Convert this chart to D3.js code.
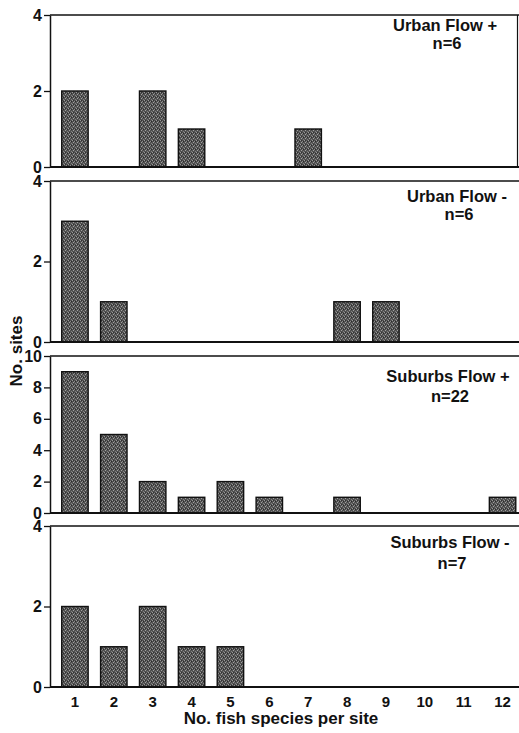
<!DOCTYPE html>
<html>
<head>
<meta charset="utf-8">
<script src="https://cdn.jsdelivr.net/npm/d3@7"></script>
<style>
  body { margin: 0; background: #fff; }
  svg text { font-family: "Liberation Sans", Arial, sans-serif; font-weight: bold; fill: #111; }
</style>
</head>
<body>
<div id="chart"></div>
<script>
// data
var species = [1, 2, 3, 4, 5, 6, 7, 8, 9, 10, 11, 12];
var panelNames = ["Urban Flow +", "Urban Flow -", "Suburbs Flow +", "Suburbs Flow -"];
var panelN = ["n=6", "n=6", "n=22", "n=7"];
var urbanPlus = [2, 0, 2, 1, 0, 0, 1, 0, 0, 0, 0, 0];
var urbanMinus = [3, 1, 0, 0, 0, 0, 0, 1, 1, 0, 0, 0];
var suburbsPlus = [9, 5, 2, 1, 2, 1, 0, 1, 0, 0, 0, 1];
var suburbsMinus = [2, 1, 2, 1, 1, 0, 0, 0, 0, 0, 0, 0];
var yMax = [4, 4, 10, 4];
var yTicks = [[0, 2, 4], [0, 2, 4], [0, 2, 4, 6, 8, 10], [0, 2, 4]];

var series = [urbanPlus, urbanMinus, suburbsPlus, suburbsMinus];

// layout (pixels)
var width = 519, height = 733;
var axisX = 50, rightX = 519;
var panelTop = [15, 181, 356, 526];
var panelBase = [167, 342, 513, 687];
var labelX = [445, 457, 448, 450];
var labelY = [31, 202, 382, 548];
var labelGap = [18, 18, 20, 21];

var svg = d3.select('#chart').append('svg')
    .attr('width', width)
    .attr('height', height);

// speckled grey fill like the printed bars
var defs = svg.append('defs');
var pat = defs.append('pattern')
    .attr('id', 'speckle')
    .attr('patternUnits', 'userSpaceOnUse')
    .attr('width', 4).attr('height', 4);
pat.append('rect').attr('width', 4).attr('height', 4).attr('fill', '#505050');
pat.append('rect').attr('x', 0).attr('y', 0).attr('width', 1).attr('height', 1).attr('fill', '#999');
pat.append('rect').attr('x', 2).attr('y', 1).attr('width', 1).attr('height', 1).attr('fill', '#8a8a8a');
pat.append('rect').attr('x', 1).attr('y', 2).attr('width', 1).attr('height', 1).attr('fill', '#a0a0a0');
pat.append('rect').attr('x', 3).attr('y', 3).attr('width', 1).attr('height', 1).attr('fill', '#808080');
pat.append('rect').attr('x', 3).attr('y', 1).attr('width', 1).attr('height', 1).attr('fill', '#2a2a2a');
pat.append('rect').attr('x', 1).attr('y', 0).attr('width', 1).attr('height', 1).attr('fill', '#303030');

var x = d3.scaleBand()
    .domain(species)
    .range([55.5, 522])
    .paddingInner(0.32)
    .paddingOuter(0.16);

series.forEach(function(vals, i) {
    var y = d3.scaleLinear()
        .domain([0, yMax[i]])
        .range([panelBase[i], panelTop[i]]);

    var g = svg.append('g');

    // frame top line
    g.append('line')
        .attr('x1', axisX).attr('x2', rightX)
        .attr('y1', panelTop[i]).attr('y2', panelTop[i])
        .attr('stroke', '#111').attr('stroke-width', 1.5);

    if (i == 0) {
        g.append('line')
            .attr('x1', 517.5).attr('x2', 517.5)
            .attr('y1', panelTop[i]).attr('y2', panelBase[i])
            .attr('stroke', '#111').attr('stroke-width', 1.2);
    }

    // bars
    g.selectAll('rect.bar')
        .data(vals.map(function(v, k) { return {k: species[k], v: v}; }).filter(function(d) { return d.v > 0; }))
        .enter().append('rect')
        .attr('class', 'bar')
        .attr('x', function(d) { return x(d.k); })
        .attr('width', x.bandwidth())
        .attr('y', function(d) { return y(d.v); })
        .attr('height', function(d) { return y(0) - y(d.v); })
        .attr('fill', 'url(#speckle)')
        .attr('stroke', '#111')
        .attr('stroke-width', 1.4);

    // y axis
    var yAxis = d3.axisLeft(y)
        .tickValues(yTicks[i])
        .tickFormat(d3.format('d'))
        .tickSize(6)
        .tickPadding(2)
        .tickSizeOuter(0);
    var ya = g.append('g')
        .attr('transform', 'translate(' + axisX + ',0)')
        .call(yAxis);
    ya.select('.domain').attr('stroke', '#111').attr('stroke-width', 1.5);
    ya.selectAll('.tick line').attr('stroke', '#111').attr('stroke-width', 1.3);
    ya.selectAll('.tick text')
        .attr('font-size', 16)
        .style('font-family', '"Liberation Sans", Arial, sans-serif')
        .style('font-weight', 'bold')
        .attr('fill', '#111');

    // baseline
    g.append('line')
        .attr('x1', axisX).attr('x2', rightX)
        .attr('y1', panelBase[i]).attr('y2', panelBase[i])
        .attr('stroke', '#111').attr('stroke-width', 1.8);

    // panel label
    g.append('text')
        .attr('x', labelX[i]).attr('y', labelY[i])
        .attr('text-anchor', 'middle')
        .attr('font-size', 16.5)
        .text(panelNames[i]);
    g.append('text')
        .attr('x', labelX[i] + 2).attr('y', labelY[i] + labelGap[i])
        .attr('text-anchor', 'middle')
        .attr('font-size', 16.5)
        .text(panelN[i]);

    // x tick labels on the bottom panel
    if (i == series.length - 1) {
        var xAxis = d3.axisBottom(x).tickSize(0).tickPadding(9);
        var xa = g.append('g')
            .attr('transform', 'translate(0,' + panelBase[i] + ')')
            .call(xAxis);
        xa.select('.domain').remove();
        xa.selectAll('.tick text')
            .attr('font-size', 15)
            .style('font-family', '"Liberation Sans", Arial, sans-serif')
            .style('font-weight', 'bold')
            .attr('fill', '#111');
    }
});

// axis titles
svg.append('text')
    .attr('transform', 'translate(22,351) rotate(-90)')
    .attr('text-anchor', 'middle')
    .attr('font-size', 17)
    .text('No. sites');

svg.append('text')
    .attr('x', 281).attr('y', 724)
    .attr('text-anchor', 'middle')
    .attr('font-size', 17)
    .text('No. fish species per site');
</script>
</body>
</html>
